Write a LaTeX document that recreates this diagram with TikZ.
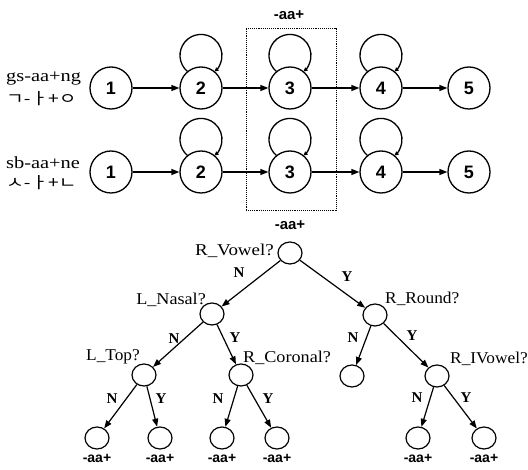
\documentclass[tikz,border=0pt]{standalone}
\usepackage{fontspec}
\setmainfont{Liberation Serif}
\newfontfamily\sansf{Liberation Sans}
\newfontfamily\krf{Noto Sans CJK KR}
\usetikzlibrary{arrows.meta,shapes.geometric}
\begin{document}
\begin{tikzpicture}[x=1pt,y=-1pt,
  state/.style={circle,draw,line width=1.3pt,minimum size=42pt,inner sep=0pt,fill=white,
    font=\sansf\bfseries\fontsize{18}{18}\selectfont},
  tnode/.style={ellipse,draw,line width=1.2pt,minimum width=24pt,minimum height=22pt,inner sep=0pt},
  harrow/.style={line width=1.3pt,-{Triangle[length=8pt,width=6pt]}},
  looparc/.style={line width=1.3pt,-{Triangle[length=4pt,width=4pt]}},
  tarrow/.style={line width=1.2pt,-{Triangle[length=8pt,width=6pt]}},
  qlabel/.style={font=\fontsize{16.5}{16.5}\selectfont,inner sep=0pt},
  yn/.style={font=\bfseries\fontsize{15}{15}\selectfont,inner sep=0pt},
  aaplus/.style={font=\sansf\bfseries\fontsize{15}{15}\selectfont,inner sep=0pt},
  leaflab/.style={font=\sansf\bfseries\fontsize{14}{14}\selectfont,inner sep=0pt},
  rowlab/.style={font=\fontsize{17}{17}\selectfont,inner sep=0pt,anchor=west},
  krlab/.style={font=\krf\fontsize{16}{16}\selectfont,inner sep=0pt,anchor=west},
  frame/.style={draw,densely dotted,line width=0.9pt,inner sep=0pt,minimum width=90pt,minimum height=182pt}
]
\useasboundingbox (0,0) rectangle (528,470);

% dotted frame and its labels
\node[frame] (box) at (291,119) {};
\node[aaplus] (toplab) at (289,15) {-aa+};
\node[aaplus] (botlab) at (290,225) {-aa+};

% row labels
\node[rowlab] (r1a) at (6,78.5) {\scalebox{1.2}[1]{gs-aa+ng}};
\node[krlab]  (r1b) at (6,98.5) {\scalebox{1.2}[1]{ㄱ-ㅏ+ㅇ}};
\node[rowlab] (r2a) at (6,162.5) {\scalebox{1.2}[1]{sb-aa+ne}};
\node[krlab]  (r2b) at (6,182.5) {\scalebox{1.2}[1]{ㅅ-ㅏ+ㄴ}};

% row 1 self loops
\foreach \x in {201,290,381}{
  \draw[looparc] (\x-13.5,71.5) arc[start angle=130,end angle=410,radius=21];
}
\node[state] (a1) at (111,88) {1};
\node[state] (a2) at (201,88) {2};
\node[state] (a3) at (290,88) {3};
\node[state] (a4) at (381,88) {4};
\node[state] (a5) at (469,88) {5};
\draw[harrow] (a1) -- (a2);
\draw[harrow] (a2) -- (a3);
\draw[harrow] (a3) -- (a4);
\draw[harrow] (a4) -- (a5);

% row 2 self loops
\foreach \x in {201,290,381}{
  \draw[looparc] (\x-13.5,155.5) arc[start angle=130,end angle=410,radius=21];
}
\node[state] (b1) at (111,172) {1};
\node[state] (b2) at (201,172) {2};
\node[state] (b3) at (290,172) {3};
\node[state] (b4) at (381,172) {4};
\node[state] (b5) at (469,172) {5};
\draw[harrow] (b1) -- (b2);
\draw[harrow] (b2) -- (b3);
\draw[harrow] (b3) -- (b4);
\draw[harrow] (b4) -- (b5);

% tree
\node[tnode] (root) at (290,253) {};
\node[tnode] (ln) at (212,314) {};
\node[tnode] (rr) at (375,315) {};
\node[tnode] (lt) at (144,375) {};
\node[tnode] (rc) at (241,375) {};
\node[tnode] (rn) at (352,376) {};
\node[tnode] (ri) at (437,376) {};
\node[tnode] (l1) at (97,438) {};
\node[tnode] (l2) at (160,438) {};
\node[tnode] (l3) at (222,438) {};
\node[tnode] (l4) at (277,438) {};
\node[tnode] (l5) at (418,438) {};
\node[tnode] (l6) at (484,438) {};

\draw[tarrow] (root) -- (ln);
\draw[tarrow] (root) -- (rr);
\draw[tarrow] (ln) -- (lt);
\draw[tarrow] (ln) -- (rc);
\draw[tarrow] (rr) -- (rn);
\draw[tarrow] (rr) -- (ri);
\draw[tarrow] (lt) -- (l1);
\draw[tarrow] (lt) -- (l2);
\draw[tarrow] (rc) -- (l3);
\draw[tarrow] (rc) -- (l4);
\draw[tarrow] (ri) -- (l5);
\draw[tarrow] (ri) -- (l6);

% question labels
\node[qlabel,anchor=east] (q1) at (274,251) {\scalebox{1.15}[1]{R\_Vowel?}};
\node[qlabel,anchor=east] (q2) at (206,300) {\scalebox{1.1}[1]{L\_Nasal?}};
\node[qlabel,anchor=west] (q3) at (385,299) {\scalebox{1.05}[1]{R\_Round?}};
\node[qlabel,anchor=east] (q4) at (140,357) {\scalebox{1.05}[1]{L\_Top?}};
\node[qlabel,anchor=west] (q5) at (243,358) {\scalebox{1.1}[1]{R\_Coronal?}};
\node[qlabel,anchor=west] (q6) at (450,359) {\scalebox{1.05}[1]{R\_IVowel?}};

% Y/N labels
\node[yn] (e1) at (239,273) {N};
\node[yn] (e2) at (347,277) {Y};
\node[yn] (e3) at (174,339) {N};
\node[yn] (e4) at (235,338) {Y};
\node[yn] (e5) at (353,338) {N};
\node[yn] (e6) at (412,336) {Y};
\node[yn] (e7) at (112,399) {N};
\node[yn] (e8) at (161,399) {Y};
\node[yn] (e9) at (218,399) {N};
\node[yn] (e10) at (268,399) {Y};
\node[yn] (e11) at (417,398) {N};
\node[yn] (e12) at (466,398) {Y};

% leaf labels
\node[leaflab] (f1) at (97,458) {-aa+};
\node[leaflab] (f2) at (160,458) {-aa+};
\node[leaflab] (f3) at (222,458) {-aa+};
\node[leaflab] (f4) at (277,458) {-aa+};
\node[leaflab] (f5) at (418,458) {-aa+};
\node[leaflab] (f6) at (484,458) {-aa+};
\end{tikzpicture}
\end{document}
